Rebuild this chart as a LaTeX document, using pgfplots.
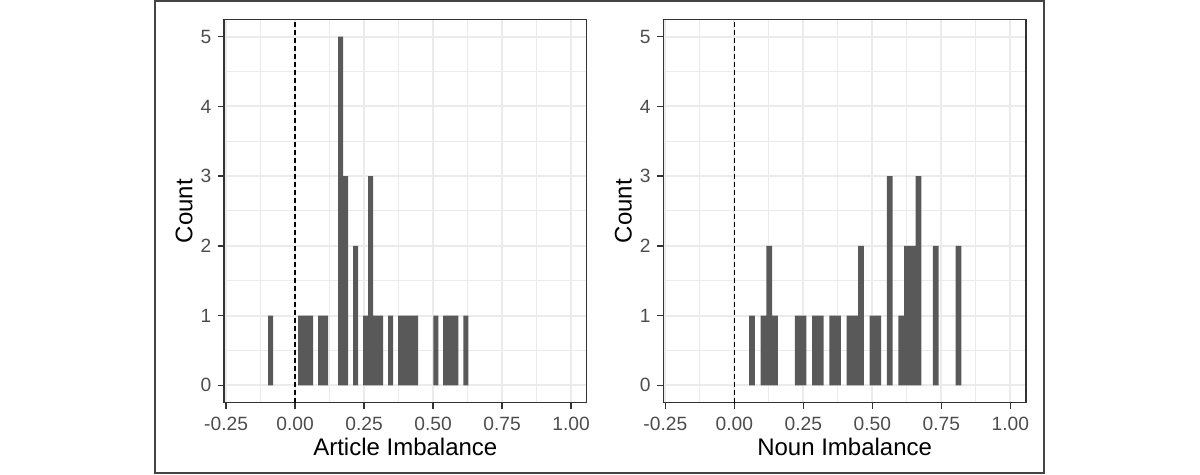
\documentclass[border=0pt]{standalone}
\usepackage{fontspec}
\setmainfont{Liberation Sans}
\usepackage{pgfplots}
\pgfplotsset{compat=1.18}
\definecolor{barfill}{HTML}{595959}
\definecolor{gridc}{HTML}{EBEBEB}
\definecolor{bordc}{HTML}{333333}
\definecolor{tickc}{HTML}{4D4D4D}
\definecolor{framec}{HTML}{444444}

\pgfplotsset{
  hist/.style={
    scale only axis, width=181.35pt, height=191.7pt,
    anchor=north west,
    xmin=-0.2575, xmax=1.0566, ymin=-0.25, ymax=5.25,
    xtick={-0.25,0,0.25,0.5,0.75,1},
    xticklabels={-0.25,0.00,0.25,0.50,0.75,1.00},
    ytick={0,1,2,3,4,5},
    yticklabels={0,1,2,3,4,5},
    minor xtick={-0.125,0.125,0.375,0.625,0.875},
    minor ytick={0.5,1.5,2.5,3.5,4.5},
    grid=both,
    major grid style={gridc, line width=1pt},
    minor grid style={gridc, line width=0.5pt},
    tick align=outside,
    tick pos=left,
    major tick length=3pt, minor tick length=0pt,
    axis line style={bordc, line width=0.75pt},
    major tick style={bordc, line width=0.75pt},
    /pgf/number format/assume math mode=true,
    ticklabel style={font=\fontsize{9.6}{11}\selectfont, text=tickc, inner sep=0pt},
    xticklabel shift=4pt,
    yticklabel shift=3.15pt,
    xlabel style={at={(axis description cs:0.5,-0.13824)}, anchor=base, font=\fontsize{12}{14}\selectfont, text=black},
    ylabel style={at={(axis description cs:-0.0874,0.5)}, anchor=base, font=\fontsize{12}{14}\selectfont, text=black},
    ylabel={Count},
  },
  bars/.style={ybar, bar shift=0pt, fill=barfill, draw=none},
  vref/.style={black, line width=0.75pt, dash pattern=on 2.2pt off 1.8pt},
}

\begin{document}
\begin{tikzpicture}
\useasboundingbox (0,0) rectangle (600pt,-237.5pt);
\draw[framec, line width=1pt] (77.5pt,-0.5pt) rectangle (522.15pt,-236.65pt);

\begin{axis}[hist, at={(112pt,-9.65pt)}, xlabel={Article Imbalance}]
\addplot[bars, bar width=0.018136] coordinates {
(-0.0888,1) (0.0200,1) (0.0381,1) (0.0563,1) (0.0925,1) (0.1107,1)
(0.1651,5) (0.1832,3) (0.2195,2) (0.2558,1) (0.2739,3) (0.2920,1)
(0.3102,1) (0.3464,1) (0.3827,1) (0.4008,1) (0.4190,1) (0.4371,1)
(0.5097,1) (0.5459,1) (0.5641,1) (0.5822,1) (0.6185,1)
};
\addplot[vref] coordinates {(0,-0.25) (0,5.25)};
\end{axis}

\begin{axis}[hist, at={(331.65pt,-9.65pt)}, xlabel={Noun Imbalance}]
\addplot[bars, bar width=0.0208] coordinates {
(0.0636,1) (0.1052,1) (0.1260,2) (0.1468,1) (0.2300,1) (0.2508,1)
(0.2924,1) (0.3132,1) (0.3548,1) (0.3756,1) (0.4172,1) (0.4380,1)
(0.4588,2) (0.5004,1) (0.5212,1) (0.5628,3) (0.6044,1) (0.6252,2)
(0.6460,2) (0.6668,3) (0.7292,2) (0.8124,2)
};
\addplot[vref] coordinates {(0,-0.25) (0,5.25)};
\end{axis}
\end{tikzpicture}
\end{document}
